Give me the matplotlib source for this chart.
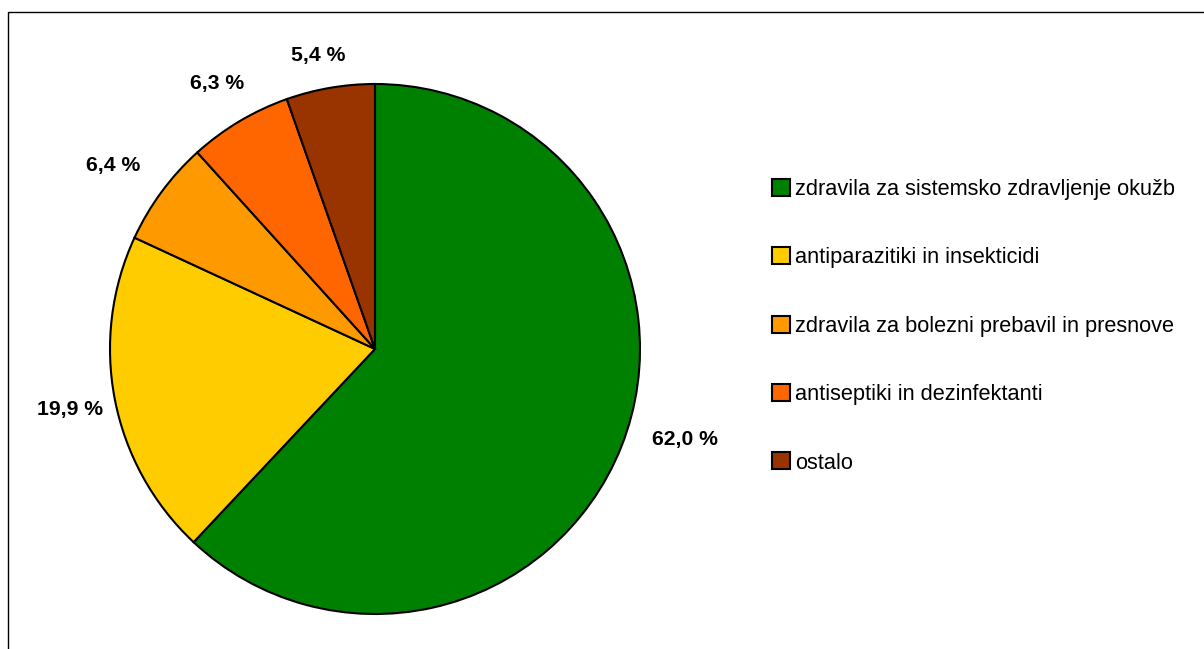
import matplotlib
matplotlib.use("Agg")
import matplotlib.pyplot as plt
from matplotlib import font_manager
from matplotlib.patches import Patch, Rectangle

categories = ["zdravila za sistemsko zdravljenje okužb",
              "antiparazitiki in insekticidi",
              "zdravila za bolezni prebavil in presnove",
              "antiseptiki in dezinfektanti",
              "ostalo"]
shares = [62.0, 19.9, 6.4, 6.3, 5.4]
colors = ["#008000", "#FFCC00", "#FF9900", "#FF6600", "#993300"]

# label centres (pixels in the reference picture)
label_px = [(685, 440), (70, 410), (113, 166), (217, 83), (318, 55)]

names = {f.name for f in font_manager.fontManager.ttflist}
if "Liberation Sans Narrow" in names:
    fam, fs_leg, fs_lab = "Liberation Sans Narrow", 19, 19
else:
    fam, fs_leg, fs_lab = "Liberation Sans", 15.7, 15.2
plt.rcParams["font.family"] = [fam, "DejaVu Sans"]

W, H = 1204, 649
fig = plt.figure(figsize=(W / 100, H / 100), dpi=100)

# outer frame (only top and left visible in the original)
fig.patches.append(Rectangle((8 / W, -0.1), 1.2, (H - 12) / H + 0.1, transform=fig.transFigure,
                             fill=False, edgecolor="black", linewidth=1))

cx, cy, r = 375, 349, 265
ax = fig.add_axes([(cx - r) / W, (H - cy - r) / H, 2 * r / W, 2 * r / H])
wedges, _, autotexts = ax.pie(shares, colors=colors, startangle=90, counterclock=False,
                              radius=1, autopct=lambda p: "", pctdistance=1.18,
                              wedgeprops=dict(edgecolor="black", linewidth=1.5))
for t, v, (px, py) in zip(autotexts, shares, label_px):
    t.set_text(f"{v:.1f} %".replace(".", ","))
    t.set_fontweight("bold")
    t.set_fontsize(fs_lab)
    t.set_ha("center")
    t.set_va("center")
    t.set_position(((px - cx) / r, (cy - py) / r))
ax.set_xlim(-1, 1)
ax.set_ylim(-1, 1)
ax.set_aspect("equal")
ax.axis("off")

handles = [Patch(facecolor=c, edgecolor="black", linewidth=1.5) for c in colors]
fig.legend(handles, categories, loc="upper left", bbox_to_anchor=(772 / W, 1 - 179 / H),
           frameon=False, fontsize=fs_leg, handlelength=0.82, handleheight=0.82,
           handletextpad=0.25, labelspacing=2.17, borderpad=0, borderaxespad=0)

fig.savefig("out.png", dpi=100)
